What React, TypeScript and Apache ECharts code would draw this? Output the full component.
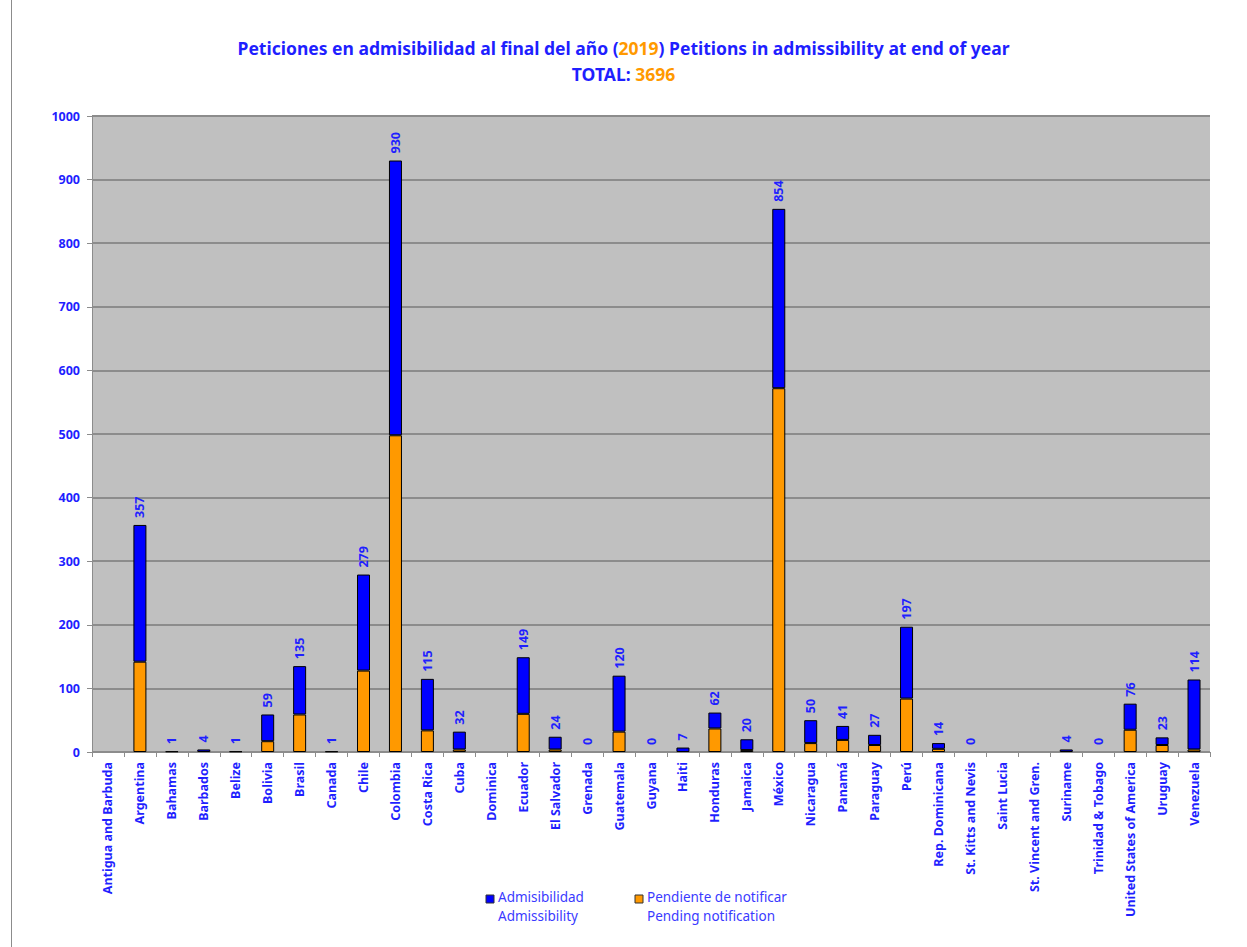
import React, { useEffect, useRef } from "react";
import * as echarts from "echarts";

const categories = [
  "Antigua and Barbuda", "Argentina", "Bahamas", "Barbados", "Belize", "Bolivia", "Brasil", "Canada",
  "Chile", "Colombia", "Costa Rica", "Cuba", "Dominica", "Ecuador", "El Salvador", "Grenada",
  "Guatemala", "Guyana", "Haiti", "Honduras", "Jamaica", "México", "Nicaragua", "Panamá",
  "Paraguay", "Perú", "Rep. Dominicana", "St. Kitts and Nevis", "Saint Lucia", "St. Vincent and Gren.",
  "Suriname", "Trinidad & Tobago", "United States of America", "Uruguay", "Venezuela",
];

const admissibility: (number | null)[] = [
  null, 215, 1, 4, 1, 42, 76, 1, 151, 432, 81, 28, null, 89, 20, 0, 88, 0, 7, 25, 17, 282, 36, 22,
  16, 113, 9, 0, null, null, 4, 0, 41, 12, 110,
];

const pending: (number | null)[] = [
  null, 142, 0, 0, 0, 17, 59, 0, 128, 498, 34, 4, null, 60, 4, 0, 32, 0, 0, 37, 3, 572, 14, 19,
  11, 84, 5, 0, null, null, 0, 0, 35, 11, 4,
];

const yTicks = [0, 100, 200, 300, 400, 500, 600, 700, 800, 900, 1000];

const titleYear = "2019";
const totalValue = 3696;

const BLUE = "#0000FF";
const ORANGE = "#FF9900";
const TEXT_BLUE = "#1F1FFF";
const FONT = "'Noto Sans', 'DejaVu Sans', sans-serif";

const toItems = (arr: (number | null)[]) =>
  arr.map((v) =>
    v === 0
      ? { value: v, itemStyle: { borderWidth: 0, color: "rgba(0,0,0,0)", borderColor: "rgba(0,0,0,0)" } }
      : v
  );

export default function App() {
  const ref = useRef<HTMLDivElement>(null);

  useEffect(() => {
    if (!ref.current) return;
    const chart = echarts.init(ref.current, null, { renderer: "svg" });
    const richTitle = {
      b: { color: TEXT_BLUE, fontWeight: "bold", fontSize: 17.5, fontFamily: FONT },
      o: { color: ORANGE, fontWeight: "bold", fontSize: 17.5, fontFamily: FONT },
    };
    const option: any = {
      animation: false,
      backgroundColor: "#FFFFFF",
      textStyle: { fontFamily: FONT },
      title: [
        {
          text: `{b|Peticiones en admisibilidad al final del año (}{o|${titleYear}}{b|) Petitions in admissibility at end of year}`,
          left: "center",
          top: 34,
          textStyle: { rich: richTitle },
        },
        {
          text: `{b|TOTAL: }{o|${totalValue}}`,
          left: "center",
          top: 60,
          textStyle: { rich: richTitle },
        },
      ],
      grid: { left: 92, top: 116, width: 1118, height: 636, containLabel: false },
      xAxis: {
        type: "category",
        data: categories,
        axisLine: { lineStyle: { color: "#8C8C8C", width: 1 } },
        axisTick: { show: true, length: 5, alignWithLabel: false, lineStyle: { color: "#8C8C8C" } },
        axisLabel: {
          interval: 0,
          rotate: 90,
          color: TEXT_BLUE,
          fontWeight: "bold",
          fontSize: 12.5,
          fontFamily: FONT,
          margin: 10,
        },
      },
      yAxis: {
        type: "value",
        min: 0,
        max: yTicks[yTicks.length - 1],
        interval: 100,
        axisLine: { show: true, lineStyle: { color: "#8C8C8C" } },
        axisTick: { show: true, length: 5, lineStyle: { color: "#8C8C8C" } },
        axisLabel: {
          color: TEXT_BLUE,
          fontWeight: "bold",
          fontSize: 12.5,
          fontFamily: FONT,
          margin: 12,
          formatter: (v: number) => String(v),
        },
        splitLine: { show: true, lineStyle: { color: "#8C8C8C", width: 2 } },
        splitArea: { show: true, areaStyle: { color: ["#C0C0C0", "#C0C0C0"] } },
      },
      series: [
        {
          name: "Pendiente de notificar",
          type: "bar",
          stack: "total",
          data: toItems(pending),
          barWidth: 13,
          itemStyle: { color: ORANGE, borderColor: "#000000", borderWidth: 1 },
        },
        {
          name: "Admisibilidad",
          type: "bar",
          stack: "total",
          data: toItems(admissibility),
          barWidth: 13,
          itemStyle: { color: BLUE, borderColor: "#000000", borderWidth: 1 },
          label: {
            show: true,
            position: "top",
            rotate: 90,
            align: "left",
            verticalAlign: "middle",
            distance: 7,
            color: TEXT_BLUE,
            fontSize: 12.5,
            fontWeight: "bold",
            fontFamily: FONT,
            formatter: (p: any) => {
              const i = p.dataIndex;
              const a = admissibility[i];
              const b = pending[i];
              if (a === null && b === null) return "";
              return String((a || 0) + (b || 0));
            },
          },
        },
      ],
      graphic: [
        {
          type: "line",
          shape: { x1: 11.5, y1: 0, x2: 11.5, y2: 947 },
          style: { stroke: "#8C8C8C", lineWidth: 1 },
        },
        {
          type: "rect",
          shape: { x: 486, y: 895, width: 8, height: 8 },
          style: { fill: BLUE, stroke: "#333333", lineWidth: 1 },
        },
        {
          type: "text",
          x: 498,
          y: 890,
          style: { text: "Admisibilidad", fill: "#3A3AFF", font: `13.5px ${FONT}` },
        },
        {
          type: "text",
          x: 498,
          y: 909,
          style: { text: "Admissibility", fill: "#3A3AFF", font: `13.5px ${FONT}` },
        },
        {
          type: "rect",
          shape: { x: 635, y: 895, width: 8, height: 8 },
          style: { fill: ORANGE, stroke: "#333333", lineWidth: 1 },
        },
        {
          type: "text",
          x: 647,
          y: 890,
          style: { text: "Pendiente de notificar", fill: "#3A3AFF", font: `13.5px ${FONT}` },
        },
        {
          type: "text",
          x: 647,
          y: 909,
          style: { text: "Pending notification", fill: "#3A3AFF", font: `13.5px ${FONT}` },
        },
      ],
    };
    chart.setOption(option);
    return () => chart.dispose();
  }, []);

  return (
    <div
      ref={ref}
      style={{ position: "fixed", left: 0, top: 0, width: 1247, height: 947 }}
    />
  );
}
